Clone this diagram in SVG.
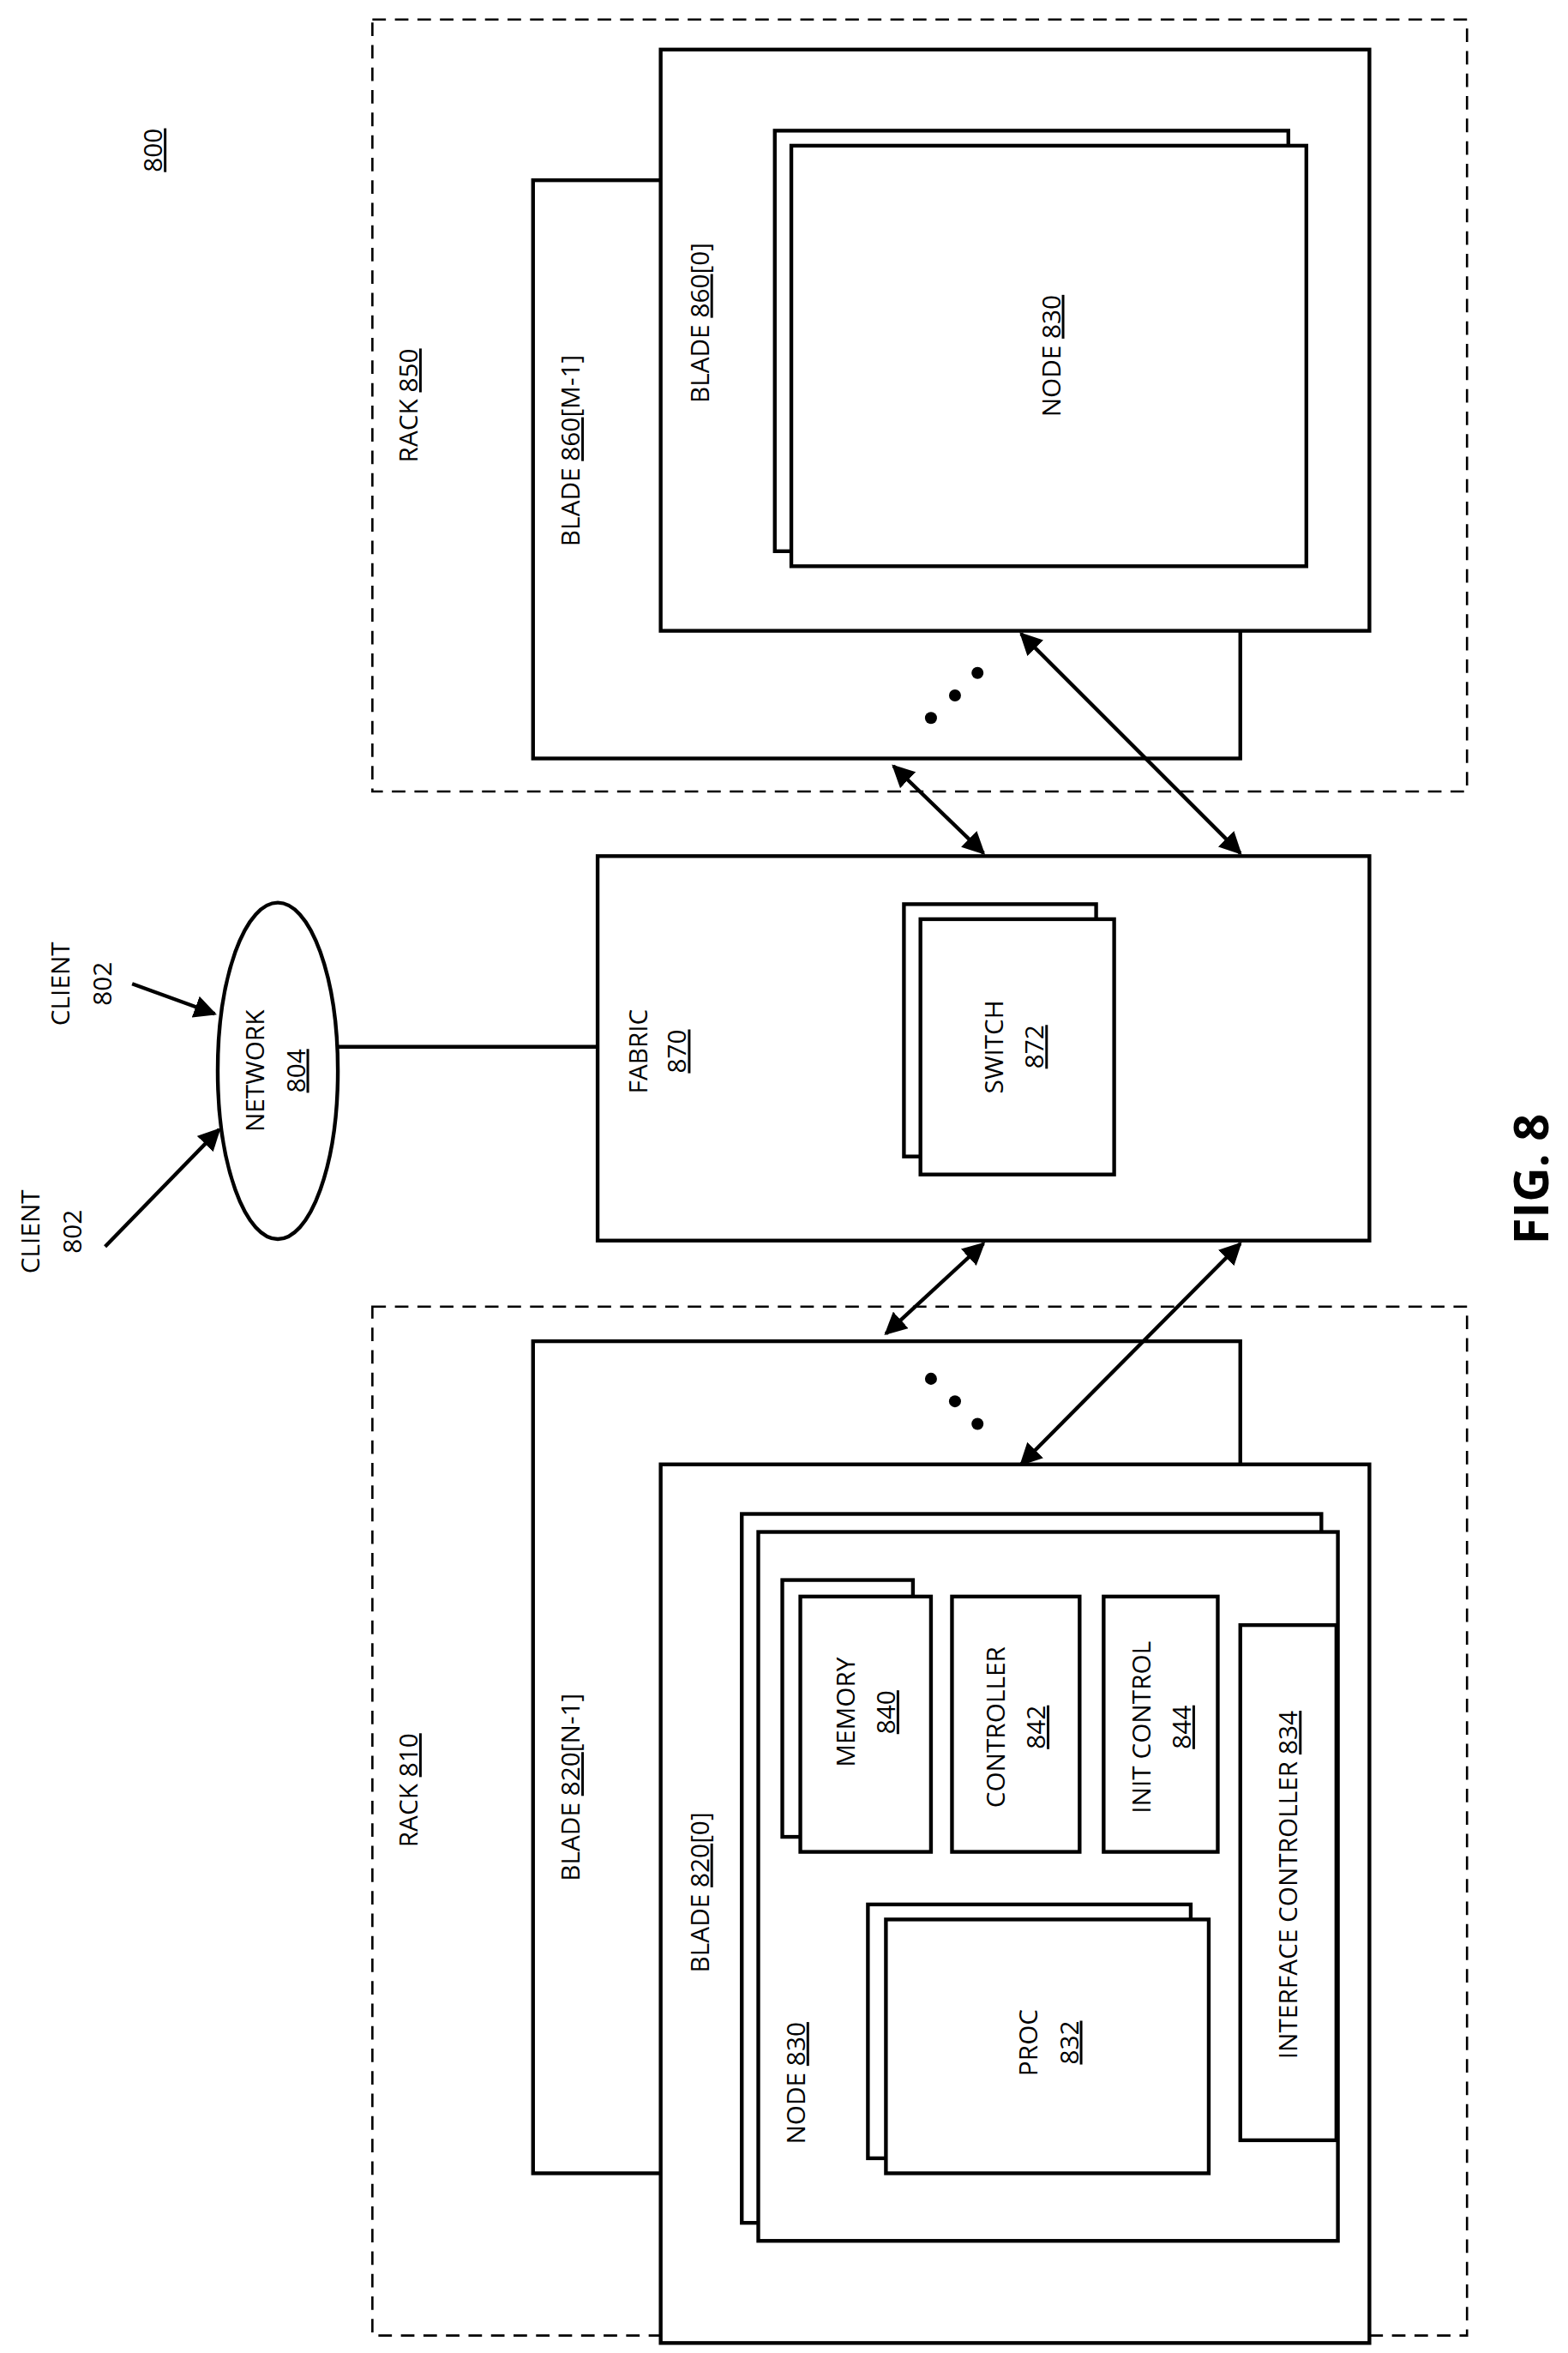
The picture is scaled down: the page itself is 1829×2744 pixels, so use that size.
<svg xmlns="http://www.w3.org/2000/svg" width="1829" height="2744" viewBox="0 0 1829 2744">
<style>
.b{fill:#fff;stroke:#000;stroke-width:2.5}
.d{fill:none;stroke:#000;stroke-width:1.5;stroke-dasharray:9 6}
.l{stroke:#000;stroke-width:2.5;fill:none}
text{font-family:"Open Sans","Liberation Sans",sans-serif;font-size:17px;text-anchor:middle}
.u{text-decoration:underline}
</style>
<defs>
<marker id="a" viewBox="0 0 10 10" refX="9" refY="5" markerWidth="6" markerHeight="6" orient="auto-start-reverse"><path d="M0,0L10,5L0,10z"/></marker>
</defs>
<rect width="1829" height="2744" fill="#fff"/>
<g transform="scale(1.7515)">
<text class="u" x="103" y="105" transform="rotate(-90 103 100)">800</text>
<g id="rack850">
<rect class="d" x="248" y="13" width="729" height="514"/>
<text transform="translate(278,270) rotate(-90)">RACK <tspan class="u">850</tspan></text>
</g>
<g id="blade860m1">
<rect class="b" x="355" y="120" width="471" height="385"/>
<text transform="translate(386,300) rotate(-90)">BLADE <tspan class="u">860</tspan>[M-1]</text>
</g>
<g id="blade860_0">
<rect class="b" x="440" y="33" width="472" height="387"/>
<text transform="translate(472,215) rotate(-90)">BLADE <tspan class="u">860</tspan>[0]</text>
<rect class="b" x="516" y="87" width="342" height="280"/>
<rect class="b" x="527" y="97" width="343" height="280"/>
<text transform="translate(706,237) rotate(-90)">NODE <tspan class="u">830</tspan></text>
</g>
<g id="dots1"><circle cx="620" cy="478" r="4"/><circle cx="636" cy="463" r="4"/><circle cx="651" cy="448" r="4"/></g>
<g id="fabric">
<rect class="b" x="398" y="570" width="514" height="256"/>
<text transform="translate(431,700) rotate(-90)">FABRIC</text>
<text class="u" transform="translate(457,700) rotate(-90)">870</text>
<rect class="b" x="602" y="602" width="128" height="168"/>
<rect class="b" x="613" y="612" width="129" height="170"/>
<text transform="translate(668,697) rotate(-90)">SWITCH</text>
<text class="u" transform="translate(695,697) rotate(-90)">872</text>
</g>
<g id="network">
<ellipse class="b" cx="185" cy="713" rx="40" ry="112"/>
<text transform="translate(176,713) rotate(-90)">NETWORK</text>
<text class="u" transform="translate(203,713) rotate(-90)">804</text>
</g>
<g id="client1">
<text transform="translate(46,655) rotate(-90)">CLIENT</text>
<text transform="translate(74,655) rotate(-90)">802</text>
</g>
<g id="client2">
<text transform="translate(26,820) rotate(-90)">CLIENT</text>
<text transform="translate(54,820) rotate(-90)">802</text>
</g>
<g id="rack810">
<rect class="d" x="248" y="870" width="729" height="685"/>
<text transform="translate(278,1192) rotate(-90)">RACK <tspan class="u">810</tspan></text>
</g>
<g id="blade820n1">
<rect class="b" x="355" y="893" width="471" height="554"/>
<text transform="translate(386,1190) rotate(-90)">BLADE <tspan class="u">820</tspan>[N-1]</text>
</g>
<g id="dots2"><circle cx="620" cy="918" r="4"/><circle cx="636" cy="933" r="4"/><circle cx="651" cy="948" r="4"/></g>
<g id="blade820_0">
<rect class="b" x="440" y="975" width="472" height="585"/>
<text transform="translate(472,1260) rotate(-90)">BLADE <tspan class="u">820</tspan>[0]</text>
</g>
<g id="node830">
<rect class="b" x="494" y="1008" width="386" height="472"/>
<rect class="b" x="505" y="1020" width="386" height="472"/>
<text transform="translate(536,1387) rotate(-90)">NODE <tspan class="u">830</tspan></text>
</g>
<g id="memory">
<rect class="b" x="521" y="1052" width="87" height="171"/>
<rect class="b" x="533" y="1063" width="87" height="170"/>
<text transform="translate(569,1140) rotate(-90)">MEMORY</text>
<text class="u" transform="translate(596,1140) rotate(-90)">840</text>
</g>
<g id="controller">
<rect class="b" x="634" y="1063" width="85" height="170"/>
<text transform="translate(669,1150) rotate(-90)">CONTROLLER</text>
<text class="u" transform="translate(696,1150) rotate(-90)">842</text>
</g>
<g id="init">
<rect class="b" x="735" y="1063" width="76" height="170"/>
<text transform="translate(766,1150) rotate(-90)">INIT CONTROL</text>
<text class="u" transform="translate(793,1150) rotate(-90)">844</text>
</g>
<g id="iface">
<rect class="b" x="826" y="1082" width="64" height="343"/>
<text transform="translate(864,1255) rotate(-90)">INTERFACE CONTROLLER <tspan class="u">834</tspan></text>
</g>
<g id="proc">
<rect class="b" x="578" y="1268" width="215" height="169"/>
<rect class="b" x="590" y="1278" width="215" height="169"/>
<text transform="translate(691,1360) rotate(-90)">PROC</text>
<text class="u" transform="translate(718,1360) rotate(-90)">832</text>
</g>
<g id="connectors">
<line class="l" x1="225" y1="697" x2="398" y2="697"/>
<line class="l" x1="595" y1="510" x2="655" y2="568" marker-start="url(#a)" marker-end="url(#a)"/>
<line class="l" x1="680" y1="422" x2="826" y2="568" marker-start="url(#a)" marker-end="url(#a)"/>
<line class="l" x1="590" y1="888" x2="655" y2="828" marker-start="url(#a)" marker-end="url(#a)"/>
<line class="l" x1="680" y1="975" x2="826" y2="828" marker-start="url(#a)" marker-end="url(#a)"/>
<line class="l" x1="88" y1="655" x2="143" y2="675" marker-end="url(#a)"/>
<line class="l" x1="70" y1="830" x2="146" y2="752" marker-end="url(#a)"/>
</g>
<text transform="translate(1031,785) rotate(-90)" style="font-size:32px;font-weight:bold">FIG. 8</text>
</g>
</svg>
